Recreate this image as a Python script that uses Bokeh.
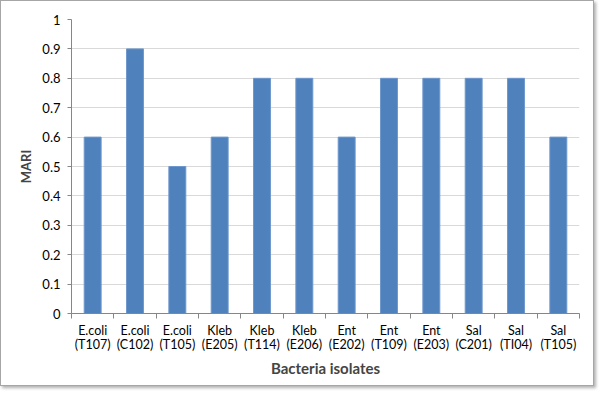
from bokeh.plotting import figure
from bokeh.embed import file_html
from bokeh.resources import INLINE
from bokeh.models import FixedTicker, CustomJSTickFormatter, Range1d

isolates = ["E.coli (T107)", "E.coli (C102)", "E.coli (T105)", "Kleb (E205)", "Kleb (T114)",
            "Kleb (E206)", "Ent (E202)", "Ent (T109)", "Ent (E203)", "Sal (C201)", "Sal (TI04)", "Sal (T105)"]
mari = [0.6, 0.9, 0.5, 0.6, 0.8, 0.8, 0.6, 0.8, 0.8, 0.8, 0.8, 0.6]
y_ticks = [0, 0.1, 0.2, 0.3, 0.4, 0.5, 0.6, 0.7, 0.8, 0.9, 1.0]

xs = list(range(len(isolates)))
labels = {i: name.replace(" ", "\n") for i, name in enumerate(isolates)}

p = figure(width=594, height=386, output_backend="svg", toolbar_location=None,
           x_range=Range1d(-0.5, len(isolates) - 0.5), y_range=Range1d(0, 1),
           min_border_left=70, min_border_right=16, min_border_top=18, min_border_bottom=74)
p.styles = {"border": "1px solid #a6a6a6", "box-shadow": "2px 2px 3px #b0b0b0"}
p.outline_line_color = None

p.vbar(x=xs, top=mari, width=0.4, fill_color="#4F81BD", line_color="#6d97cc", line_width=1)

p.xaxis.ticker = FixedTicker(ticks=xs, minor_ticks=[i - 0.5 for i in range(len(isolates) + 1)])
p.xaxis.major_label_overrides = labels
p.xaxis.major_tick_out = 0
p.xaxis.major_tick_in = 0
p.xaxis.minor_tick_out = 5
p.xaxis.minor_tick_in = 0
p.xaxis.minor_tick_line_color = "#868686"
p.xaxis.axis_line_color = "#868686"
p.xaxis.major_label_text_font = "Lato"
p.xaxis.major_label_text_font_size = "12.5px"
p.xaxis.major_label_text_line_height = 0.95
p.xaxis.major_label_text_color = "#000000"
p.xaxis.major_label_standoff = 4
p.xaxis.axis_label = "Bacteria isolates"
p.xaxis.axis_label_text_font = "Lato"
p.xaxis.axis_label_text_font_size = "15px"
p.xaxis.axis_label_text_font_style = "bold"
p.xaxis.axis_label_standoff = 4

p.yaxis.ticker = FixedTicker(ticks=y_ticks, minor_ticks=[])
p.yaxis.formatter = CustomJSTickFormatter(code="return tick.toFixed(1).replace(/\\.0$/, '');")
p.yaxis.major_tick_out = 4
p.yaxis.major_tick_in = 0
p.yaxis.major_tick_line_color = "#868686"
p.yaxis.axis_line_color = "#868686"
p.yaxis.major_label_text_font = "Lato"
p.yaxis.major_label_text_font_size = "13px"
p.yaxis.major_label_text_color = "#000000"
p.yaxis.major_label_standoff = 7
p.yaxis.axis_label = "MARI"
p.yaxis.axis_label_text_font = "Lato"
p.yaxis.axis_label_text_font_size = "13px"
p.yaxis.axis_label_text_font_style = "bold"
p.yaxis.axis_label_standoff = 5

p.xgrid.grid_line_color = None
p.ygrid.grid_line_color = "#d9d9d9"
p.ygrid.ticker = FixedTicker(ticks=y_ticks)

open("out.html", "w").write(file_html(p, INLINE))
